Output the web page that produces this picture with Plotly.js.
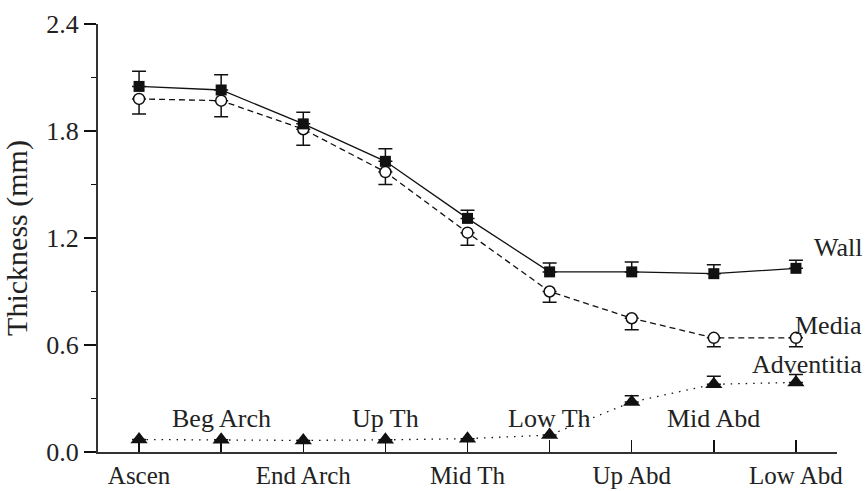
<!DOCTYPE html>
<html>
<head>
<meta charset="utf-8">
<script src="https://cdn.plot.ly/plotly-3.0.1.min.js"></script>
<style>html,body{margin:0;padding:0;background:#fff;}#chart{width:865px;height:491px;}</style>
</head>
<body>
<div id="chart"></div>
<script>
var categories = ["Ascen", "Beg Arch", "End Arch", "Up Th", "Mid Th", "Low Th", "Up Abd", "Mid Abd", "Low Abd"];
var wall = [2.05, 2.03, 1.84, 1.63, 1.31, 1.01, 1.01, 1.00, 1.03];
var wallErr = [0.085, 0.085, 0.065, 0.07, 0.045, 0.05, 0.055, 0.05, 0.045];
var media = [1.98, 1.97, 1.81, 1.57, 1.23, 0.90, 0.75, 0.64, 0.64];
var mediaErr = [0.085, 0.09, 0.09, 0.07, 0.07, 0.06, 0.065, 0.05, 0.05];
var adventitia = [0.07, 0.068, 0.065, 0.068, 0.075, 0.095, 0.28, 0.38, 0.39];
var adventitiaErr = [0, 0, 0, 0, 0, 0, 0.035, 0.045, 0.045];
var seriesNames = ["Wall", "Media", "Adventitia"];
var yTicks = [0, 0.6, 1.2, 1.8, 2.4];

var xIdx = categories.map(function (c, i) { return i; });
var bottomText = categories.map(function (c, i) { return i % 2 === 0 ? c : ""; });
var ink = "#111";
var txt = "#222";
var font = "'Liberation Serif', 'Times New Roman', serif";

var traces = [
  {
    x: xIdx, y: adventitia, mode: "lines+markers", name: seriesNames[2],
    line: {color: ink, width: 1.3, dash: "1.5px,6px"},
    marker: {symbol: "triangle-up", size: 15, color: ink},
    error_y: {type: "data", symmetric: false, array: adventitiaErr, arrayminus: adventitia.map(function(){return 0;}), color: ink, thickness: 1.5, width: 7}
  },
  {
    x: xIdx, y: media, mode: "lines+markers", name: seriesNames[1],
    line: {color: ink, width: 1.3, dash: "6px,4px"},
    marker: {symbol: "circle", size: 11, color: "#fff", line: {width: 1.5, color: ink}},
    error_y: {type: "data", symmetric: false, array: media.map(function(){return 0;}), arrayminus: mediaErr, color: ink, thickness: 1.5, width: 7}
  },
  {
    x: xIdx, y: wall, mode: "lines+markers", name: seriesNames[0],
    line: {color: ink, width: 1.3},
    marker: {symbol: "square", size: 11, color: ink},
    error_y: {type: "data", symmetric: false, array: wallErr, arrayminus: wall.map(function(){return 0;}), color: ink, thickness: 1.5, width: 7}
  }
];

var annotations = [];
categories.forEach(function (c, i) {
  if (i % 2 === 1) {
    annotations.push({x: i, y: 0.19, xref: "x", yref: "y", text: c, showarrow: false,
      font: {family: font, size: 26, color: txt}, xanchor: "center", yanchor: "middle"});
  }
});
var labelY = [1.144, 0.712, 0.488];
seriesNames.forEach(function (n, i) {
  annotations.push({x: 1.036, y: labelY[i], xref: "paper", yref: "y", text: n, showarrow: false,
    font: {family: font, size: 26, color: txt}, xanchor: "right", yanchor: "middle"});
});

var layout = {
  width: 865, height: 491,
  margin: {l: 98, r: 28, t: 24, b: 39},
  paper_bgcolor: "#fff", plot_bgcolor: "#fff",
  showlegend: false,
  font: {family: font, size: 26, color: txt},
  xaxis: {
    range: [-0.5, 8.5], tickvals: xIdx, ticktext: bottomText,
    ticks: "inside", ticklen: 12, tickwidth: 1.5, tickcolor: ink,
    showgrid: false, zeroline: false, showline: true, linecolor: "#333", linewidth: 2,
    tickfont: {family: font, size: 25, color: txt}
  },
  yaxis: {
    range: [0, 2.4], tickvals: yTicks, tickformat: ".1f",
    ticks: "outside", ticklen: 12, tickwidth: 1.5, tickcolor: ink,
    minor: {dtick: 0.3, tick0: 0, ticks: "outside", ticklen: 5, tickwidth: 1.5, tickcolor: ink, showgrid: false},
    showgrid: false, zeroline: false, showline: true, linecolor: "#333", linewidth: 2,
    tickfont: {family: font, size: 26, color: txt},
    title: {text: "Thickness (mm)", font: {family: font, size: 30, color: txt}}
  },
  annotations: annotations
};

Plotly.newPlot("chart", traces, layout, {displayModeBar: false, staticPlot: true});
</script>
</body>
</html>
